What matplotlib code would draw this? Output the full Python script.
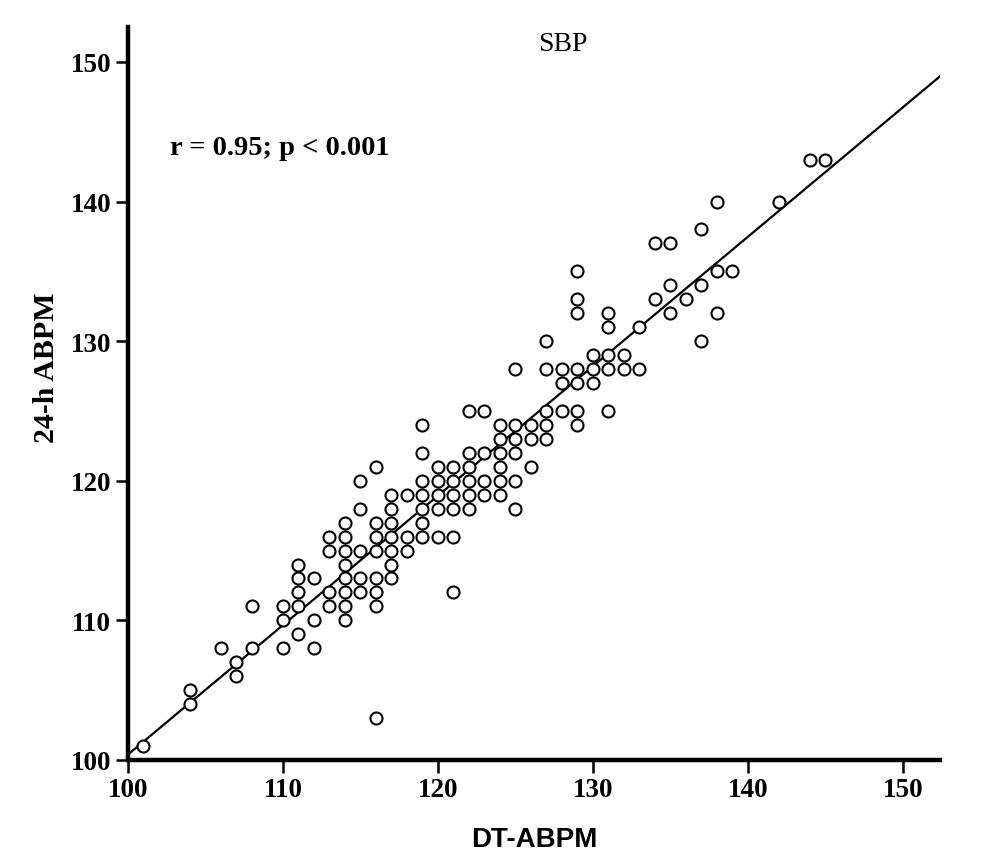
import numpy as np
import matplotlib
matplotlib.use("Agg")
import matplotlib.pyplot as plt

# DT-ABPM (x) and 24-h ABPM (y) systolic values, read column by column
columns = {
    101: [101],
    104: [105, 104],
    106: [108],
    107: [107, 106],
    108: [111, 108],
    110: [111, 110, 108],
    111: [114, 113, 112, 111, 109],
    112: [113, 110, 108],
    113: [116, 115, 112, 111],
    114: [117, 116, 115, 114, 113, 112, 111, 110],
    115: [120, 118, 115, 113, 112],
    116: [121, 117, 116, 115, 113, 112, 111, 103],
    117: [119, 118, 117, 116, 115, 114, 113],
    118: [119, 116, 115],
    119: [124, 122, 120, 119, 118, 117, 116],
    120: [121, 120, 119, 118, 116],
    121: [121, 120, 119, 118, 116, 112],
    122: [125, 122, 121, 120, 119, 118],
    123: [125, 122, 120, 119],
    124: [124, 123, 122, 121, 120, 119],
    125: [128, 124, 123, 122, 120, 118],
    126: [124, 123, 121],
    127: [130, 128, 125, 124, 123],
    128: [128, 127, 125],
    129: [135, 133, 132, 128, 127, 125, 124],
    130: [129, 128, 127],
    131: [132, 131, 129, 128, 125],
    132: [129, 128],
    133: [131, 128],
    134: [137, 133],
    135: [137, 134, 132],
    136: [133],
    137: [138, 134, 130],
    138: [140, 135, 132],
    139: [135],
    142: [140],
    144: [143],
    145: [143],
}
dt_abpm = [x for x, ys in columns.items() for _ in ys]
abpm24 = [y for ys in columns.values() for y in ys]

x_ticks = [100, 110, 120, 130, 140, 150]
y_ticks = [100, 110, 120, 130, 140, 150]
title_text = "SBP"
stat_text = "r = 0.95; p < 0.001"

fig = plt.figure(figsize=(9.86, 8.62), dpi=100)
ax = fig.add_axes([0.1298, 0.1172, 0.8235, 0.8503])

x = np.array(dt_abpm, dtype=float)
y = np.array(abpm24, dtype=float)
slope, intercept = np.polyfit(x, y, 1)

ax.scatter(x, y, s=75, facecolors="white", edgecolors="black",
           linewidths=1.5, zorder=3)

xl = (100, 152.4)
ax.set_xlim(*xl)
ax.set_ylim(100, 152.5)
xx = np.array(xl)
ax.plot(xx, intercept + slope * xx, color="black", lw=1.6, zorder=2)

for s in ("top", "right"):
    ax.spines[s].set_visible(False)
for s in ("left", "bottom"):
    ax.spines[s].set_linewidth(3.2)

ax.set_xticks(x_ticks)
ax.set_yticks(y_ticks)
ax.tick_params(direction="out", length=9, width=1.8, pad=3)
for lab in ax.get_xticklabels() + ax.get_yticklabels():
    lab.set_fontfamily("Liberation Serif")
    lab.set_fontsize(19.5)
    lab.set_fontweight("bold")

ax.set_xlabel("DT-ABPM", fontfamily="Liberation Sans", fontweight="bold",
              fontsize=20)
ax.xaxis.set_label_coords(0.501, -0.090)
ax.set_ylabel("24-h ABPM", fontfamily="Liberation Serif", fontweight="bold",
              fontsize=21.5)
ax.yaxis.set_label_coords(-0.084, 0.536)

fig.text(0.571, 0.948, title_text, fontfamily="Liberation Serif",
         fontsize=20, ha="center", va="center")
fig.text(0.172, 0.828, stat_text, fontfamily="Liberation Serif",
         fontsize=20.5, fontweight="bold", ha="left", va="center")

fig.savefig("out.png", dpi=100)
